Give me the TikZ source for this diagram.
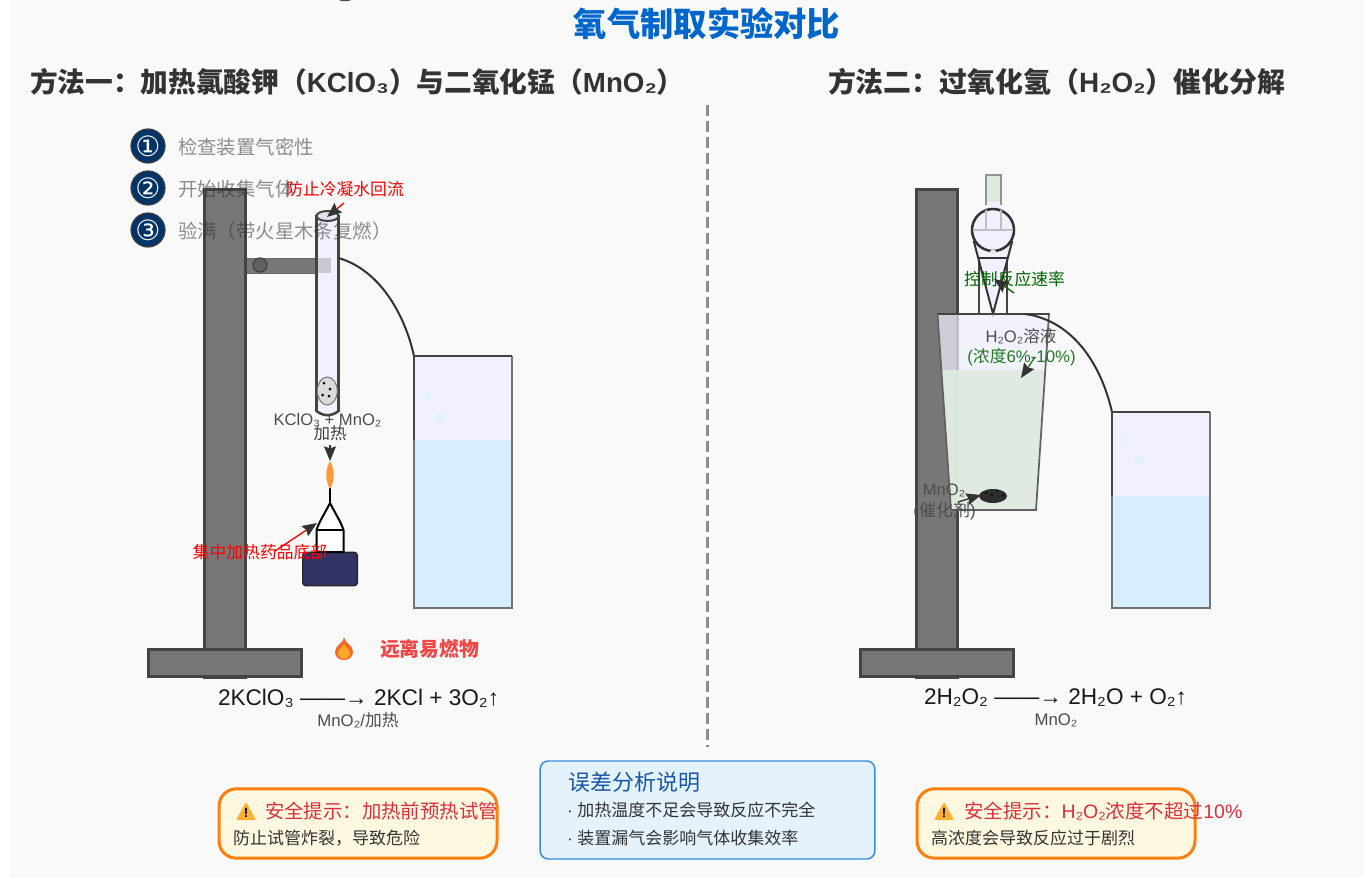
\documentclass[tikz,border=0pt]{standalone}
\usepackage{fontspec}
\usetikzlibrary{arrows.meta,shapes.geometric}
\setmainfont{Liberation Sans}
\newfontfamily\cjfont{Noto Sans CJK SC}
\newfontfamily\symfont{DejaVu Sans}
\newcommand{\zh}[1]{{\cjfont #1}}
\newcommand{\fpx}[1]{\fontsize{\fpeval{0.75*#1}pt}{\fpeval{0.9*#1}pt}\selectfont}
\definecolor{bgc}{HTML}{F9F9F9}
\definecolor{standc}{HTML}{777777}
\definecolor{edgec}{HTML}{444444}
\definecolor{glassc}{HTML}{F0F0FF}
\definecolor{waterc}{HTML}{D6EEFF}
\definecolor{liquidc}{HTML}{DFEADF}
\definecolor{orangec}{HTML}{FF7F0E}
\definecolor{warnfill}{HTML}{FFF8E1}
\definecolor{warnred}{HTML}{D9303C}
\definecolor{navyc}{HTML}{003366}
\definecolor{titlec}{HTML}{0066CC}
\definecolor{bubblec}{HTML}{E4F2FF}
\definecolor{basec}{HTML}{333366}
\definecolor{flamec}{HTML}{FF9933}
\definecolor{fireout}{HTML}{F4672A}
\definecolor{firein}{HTML}{FFA726}
\definecolor{firetxt}{HTML}{F04646}
\definecolor{greena}{HTML}{227822}
\definecolor{greenb}{HTML}{006600}
\definecolor{iconc}{HTML}{FFB032}
\definecolor{errdraw}{HTML}{3A8AE0}
\definecolor{errfill}{HTML}{E3F2FD}
\definecolor{errtitle}{HTML}{1A56A8}
\tikzset{
  txt/.style={inner sep=0pt,outer sep=0pt,align=center},
  stepdisc/.style={circle,draw=black!75,line width=.9pt,fill=navyc,minimum size=25.5pt,inner sep=0pt,text=white},
  steptxt/.style={txt,anchor=west,text=black!80,text opacity=.55},
  standbox/.style={draw=edgec,fill=standc,line width=2.25pt},
  gastube/.style={draw=black!80,line width=1.5pt},
  notearrow/.style={line width=1pt,-{Stealth[length=11pt,width=9pt,inset=1.5pt,color=black!80]}},
  warnbox/.style={draw=orangec,fill=warnfill,line width=2.25pt,rounded corners=13pt},
  warnhead/.style={txt,anchor=west,text=warnred},
  warnbody/.style={txt,anchor=west,text=black!80},
  labelgray/.style={txt,text=black!70},
  rednote/.style={txt,text=red},
}
\begin{document}
\begin{tikzpicture}[x=0.75pt,y=-0.75pt]
\useasboundingbox (0,0) rectangle (1364,878);
\fill[white] (0,0) rectangle (1364,878);
\fill[bgc] (10,0) rectangle (1364,878);
\fill[black!70] (345,0) ellipse (6 and 1.2);

% titles
\node[txt,text=titlec] (title) at (707,24) {\fpx{33.3}\cjfont\bfseries 氧气制取实验对比};
\node[txt,anchor=west,text=black!80] (m1) at (30,82) {\fpx{27.7}\bfseries\zh{\bfseries 方法一：加热氯酸钾（}KClO₃\zh{\bfseries ）与二氧化锰（}MnO₂\zh{\bfseries ）}};
\node[txt,anchor=west,text=black!80] (m2) at (828,82) {\fpx{27.9}\bfseries\zh{\bfseries 方法二：过氧化氢（}H₂O₂\zh{\bfseries ）催化分解}};
\coordinate (divtop) at (707,105);
\coordinate (divbot) at (707,747);
\draw[black!45,line width=2.25pt,dash pattern=on 8pt off 4pt] (divtop) -- (divbot);

% left stand
\draw[standbox] (204.5,189.5) rectangle (245.5,677);
\draw[standbox] (148.5,649.5) rectangle (301.5,676.5);
% clamp
\fill[standc] (247,258) rectangle (317,273);
\draw[edgec!80,line width=.5pt] (247,258) -- (317,258) (247,273) -- (317,273);
\node[circle,draw=edgec,fill=black!62,line width=1pt,minimum size=10.5pt,inner sep=0pt] (clampknob) at (260,265) {};

% test tube
\draw[fill=glassc,draw=edgec,line width=1.9pt] (316.5,216) -- (316.5,411) .. controls (323,416.5) and (332,416.5) .. (338.5,411) -- (338.5,216) -- cycle;
\fill[black!50,opacity=.35] (317.5,258) rectangle (331,273);
\node[draw=edgec,fill=glassc!94!black,line width=1.5pt,ellipse,minimum width=16.5pt,minimum height=7.5pt,inner sep=0pt] (tubetop) at (327.5,216) {};
\node[ellipse,draw=black!55,fill=black!14,line width=.75pt,minimum width=15pt,minimum height=21pt,inner sep=0pt] (reagent) at (327.3,391) {};
\foreach \p in {(324,383),(330,389),(322.7,395),(329,396)} \fill[black] \p circle (1.5);

% delivery tube left
\coordinate (t1a) at (338.5,258);
\coordinate (t1b) at (414,356);
\draw[gastube] (t1a) .. controls (380,270) and (405,315) .. (t1b);

% left bottle
\fill[glassc] (414,356) rectangle (512,608);
\fill[waterc] (414,440) rectangle (512,608);
\fill[bubblec] (428,397) circle (4) (441,418) circle (5.5);
\draw[black!55,line width=1.5pt] (414,440) -- (414,608) -- (512,608) -- (512,356);
\draw[edgec,line width=1.5pt] (512,356) -- (414,356) -- (414,440);

% burner
\node[draw=black!85,fill=basec,rounded corners=2.25pt,line width=1pt,minimum width=41pt,minimum height=25pt,inner sep=0pt] (burnbase) at (330,569) {};
\draw[black,fill=white,line width=1.5pt] (330,503) .. controls (325,513) and (319,522) .. (316.5,530) -- (316.5,552) -- (343.5,552) -- (343.5,530) .. controls (341,522) and (335,513) .. (330,503) -- cycle;
\draw[black,line width=1.2pt] (316.5,530) -- (343.5,530);
\draw[black,line width=2pt] (330,488) -- (330,503);
\fill[flamec] (330,461) .. controls (335,470) and (335,480) .. (330,489) .. controls (325,480) and (325,470) .. (330,461) -- cycle;

% labels left
\node[labelgray] (reaglab) at (327.5,420) {\fpx{16.6}KClO₃ + MnO₂};
\node[txt,text=black!75] (heatlab) at (330,433) {\fpx{16.5}\zh{加热}};
\coordinate (heatA) at (330,445);
\coordinate (heatB) at (330,461);
\draw[notearrow,black!80] (heatA) -- (heatB);

\node[rednote] (noteL1) at (345,189) {\fpx{16.8}\zh{防止冷凝水回流}};
\coordinate (n1a) at (344,203);
\coordinate (n1b) at (327,217);
\draw[notearrow,red] (n1a) -- (n1b);
\node[rednote] (noteL2) at (260,552) {\fpx{16.8}\zh{集中加热药品底部}};
\coordinate (n2a) at (275,551);
\coordinate (n2b) at (317,523);
\draw[notearrow,red] (n2a) -- (n2b);

% steps
\node[stepdisc] (s1) at (148,146) {\fontsize{21}{22}\symfont ①};
\node[stepdisc] (s2) at (148,188) {\fontsize{21}{22}\symfont ②};
\node[stepdisc] (s3) at (148,230) {\fontsize{21}{22}\symfont ③};
\node[steptxt] (s1t) at (178,147) {\fpx{19.4}\zh{检查装置气密性}};
\node[steptxt] (s2t) at (178,189) {\fpx{19.4}\zh{开始收集气体}};
\node[steptxt] (s3t) at (178,231) {\fpx{19.4}\zh{验满（带火星木条复燃）}};

% flame icon and warning
\fill[fireout] (344,637.5) .. controls (344,643) and (335,645) .. (335,652) .. controls (335,657) and (339,660) .. (344,660) .. controls (349,660) and (353,657) .. (353,652) .. controls (353,645) and (345,643) .. (344,637.5) -- cycle;
\fill[firein] (344,644) .. controls (343,647) and (338,649) .. (338,653) .. controls (338,657) and (341,659) .. (344,659) .. controls (347,659) and (350,657) .. (350,653) .. controls (350,649) and (345,647) .. (344,644) -- cycle;
\node[txt,anchor=west,text=firetxt] (fire) at (380,649) {\fpx{19.8}\cjfont\bfseries 远离易燃物};

% equations
\node[txt,anchor=west,text=black!90] (eq1) at (218,698) {\fpx{22.6}2KClO₃ ——→ 2KCl + 3O₂↑};
\node[labelgray] (eq1c) at (358,720) {\fpx{16.8}MnO₂/\zh{加热}};
\node[txt,anchor=west,text=black!90] (eq2) at (924,698) {\fpx{22.6}2H₂O₂ ——→ 2H₂O + O₂↑};
\node[labelgray] (eq2c) at (1056,720) {\fpx{16.8}MnO₂};

% right stand
\draw[standbox] (916.5,189.5) rectangle (957.5,677);
\draw[standbox] (860.5,649.5) rectangle (1013.5,676.5);

% funnel
\fill[glassc] (985.5,200) rectangle (1000.5,215);
\fill[liquidc] (985.5,174.5) rectangle (1000.5,202);
\draw[black!42,line width=1.5pt] (985.5,205) -- (985.5,175) -- (1000.5,175) -- (1000.5,205);
\draw[edgec,line width=1.5pt] (979,258) -- (979,314) (1007,258) -- (1007,314);
\draw[black!80,fill=glassc,line width=1.5pt] (974,242) -- (993,314) -- (1012,242) -- cycle;
\draw[black!80,line width=1.5pt] (979,258) -- (1007,258);
\node[circle,draw=black!80,fill=glassc,line width=1.9pt,minimum size=31.5pt,inner sep=0pt] (bulb) at (993,230) {};
\draw[black!25,line width=1.5pt] (985.5,210) -- (985.5,230) (1000.5,210) -- (1000.5,230) (973,230) -- (1013,230);
\fill[liquidc] (993,252) ellipse (3 and 2.5);

% beaker
\fill[glassc,opacity=.72] (937.5,314) -- (1049,314) -- (1036,510) -- (951,510) -- cycle;
\fill[liquidc,opacity=.93] (941.5,370) -- (1045,370) -- (1036,510) -- (951,510) -- cycle;
\draw[black!62,line width=1.3pt] (937.5,314) -- (951,510) -- (1036,510) -- (1049,314) -- cycle;
\draw[edgec,line width=1.5pt] (937.5,314) -- (1049,314);

% delivery tube right
\coordinate (t2a) at (1025,314);
\coordinate (t2b) at (1112,412);
\draw[gastube] (t2a) .. controls (1070,320) and (1100,360) .. (t2b);

% right bottle
\fill[glassc] (1112,412) rectangle (1210,608);
\fill[waterc] (1112,496) rectangle (1210,608);
\fill[bubblec] (1126,441) circle (4) (1139,460) circle (5.5);
\draw[black!55,line width=1.5pt] (1112,496) -- (1112,608) -- (1210,608) -- (1210,412);
\draw[edgec,line width=1.5pt] (1210,412) -- (1112,412) -- (1112,496);

% MnO2 lump
\node[ellipse,fill=black!82,minimum width=21pt,minimum height=10.5pt,inner sep=0pt] (lump) at (993,496) {};
\foreach \p in {(986,493),(992,495),(997.5,491),(1003,495.5)} \fill[black] \p circle (1.2);

% labels right
\node[labelgray] (h2o2) at (1021,336) {\fpx{16.6}H₂O₂\zh{溶液}};
\node[txt,text=greena] (conc) at (1021.5,357) {\fpx{16.8}(\zh{浓度}6\%-10\%)};
\coordinate (c1a) at (1035,357);
\coordinate (c1b) at (1021,378);
\draw[notearrow,greena] (c1a) -- (c1b);
\node[txt,text=greenb] (rate) at (1014.5,279) {\fpx{16.8}\zh{控制反应速率}};
\coordinate (r1a) at (1014,293);
\coordinate (r1b) at (994,279);
\draw[notearrow,greenb] (r1a) -- (r1b);
\node[labelgray] (mno) at (944,490) {\fpx{16.6}MnO₂};
\node[labelgray] (cat) at (944.5,511) {\fpx{17}(\zh{催化剂})};
\coordinate (m1a) at (958,502);
\coordinate (m1b) at (981,495);
\draw[notearrow,black!80] (m1a) -- (m1b);

% warning boxes
\node[warnbox,minimum width=208.5pt,minimum height=52pt,inner sep=0pt] (w1) at (358,823.5) {};
\fill[iconc,rounded corners=1pt] (246,802) -- (256,820) -- (236,820) -- cycle;
\node[txt,text=black] (w1i) at (246,812.5) {\fontsize{10}{10}\selectfont\bfseries !};
\node[warnhead] (w1h) at (265,811) {\fpx{19.4}\zh{安全提示：加热前预热试管}};
\node[warnbody] (w1b) at (233,838) {\fpx{17}\zh{防止试管炸裂，导致危险}};

\node[warnbox,minimum width=208.5pt,minimum height=52pt,inner sep=0pt] (w2) at (1056,823.5) {};
\fill[iconc,rounded corners=1pt] (944,802) -- (954,820) -- (934,820) -- cycle;
\node[txt,text=black] (w2i) at (944,812.5) {\fontsize{10}{10}\selectfont\bfseries !};
\node[warnhead] (w2h) at (964,811) {\fpx{19.5}\zh{安全提示：}H₂O₂\zh{浓度不超过}10\%};
\node[warnbody] (w2b) at (931,838) {\fpx{17}\zh{高浓度会导致反应过于剧烈}};

% blue box
\node[draw=errdraw,fill=errfill,line width=1.1pt,rounded corners=6pt,minimum width=251pt,minimum height=73.5pt,inner sep=0pt] (errbox) at (707.5,810) {};
\node[txt,anchor=west,text=errtitle] (errt) at (568.5,782) {\fpx{22}\zh{误差分析说明}};
\node[warnbody] (err1) at (567,810) {\fpx{17}· \zh{加热温度不足会导致反应不完全}};
\node[warnbody] (err2) at (567,838) {\fpx{17}· \zh{装置漏气会影响气体收集效率}};
\end{tikzpicture}
\end{document}
